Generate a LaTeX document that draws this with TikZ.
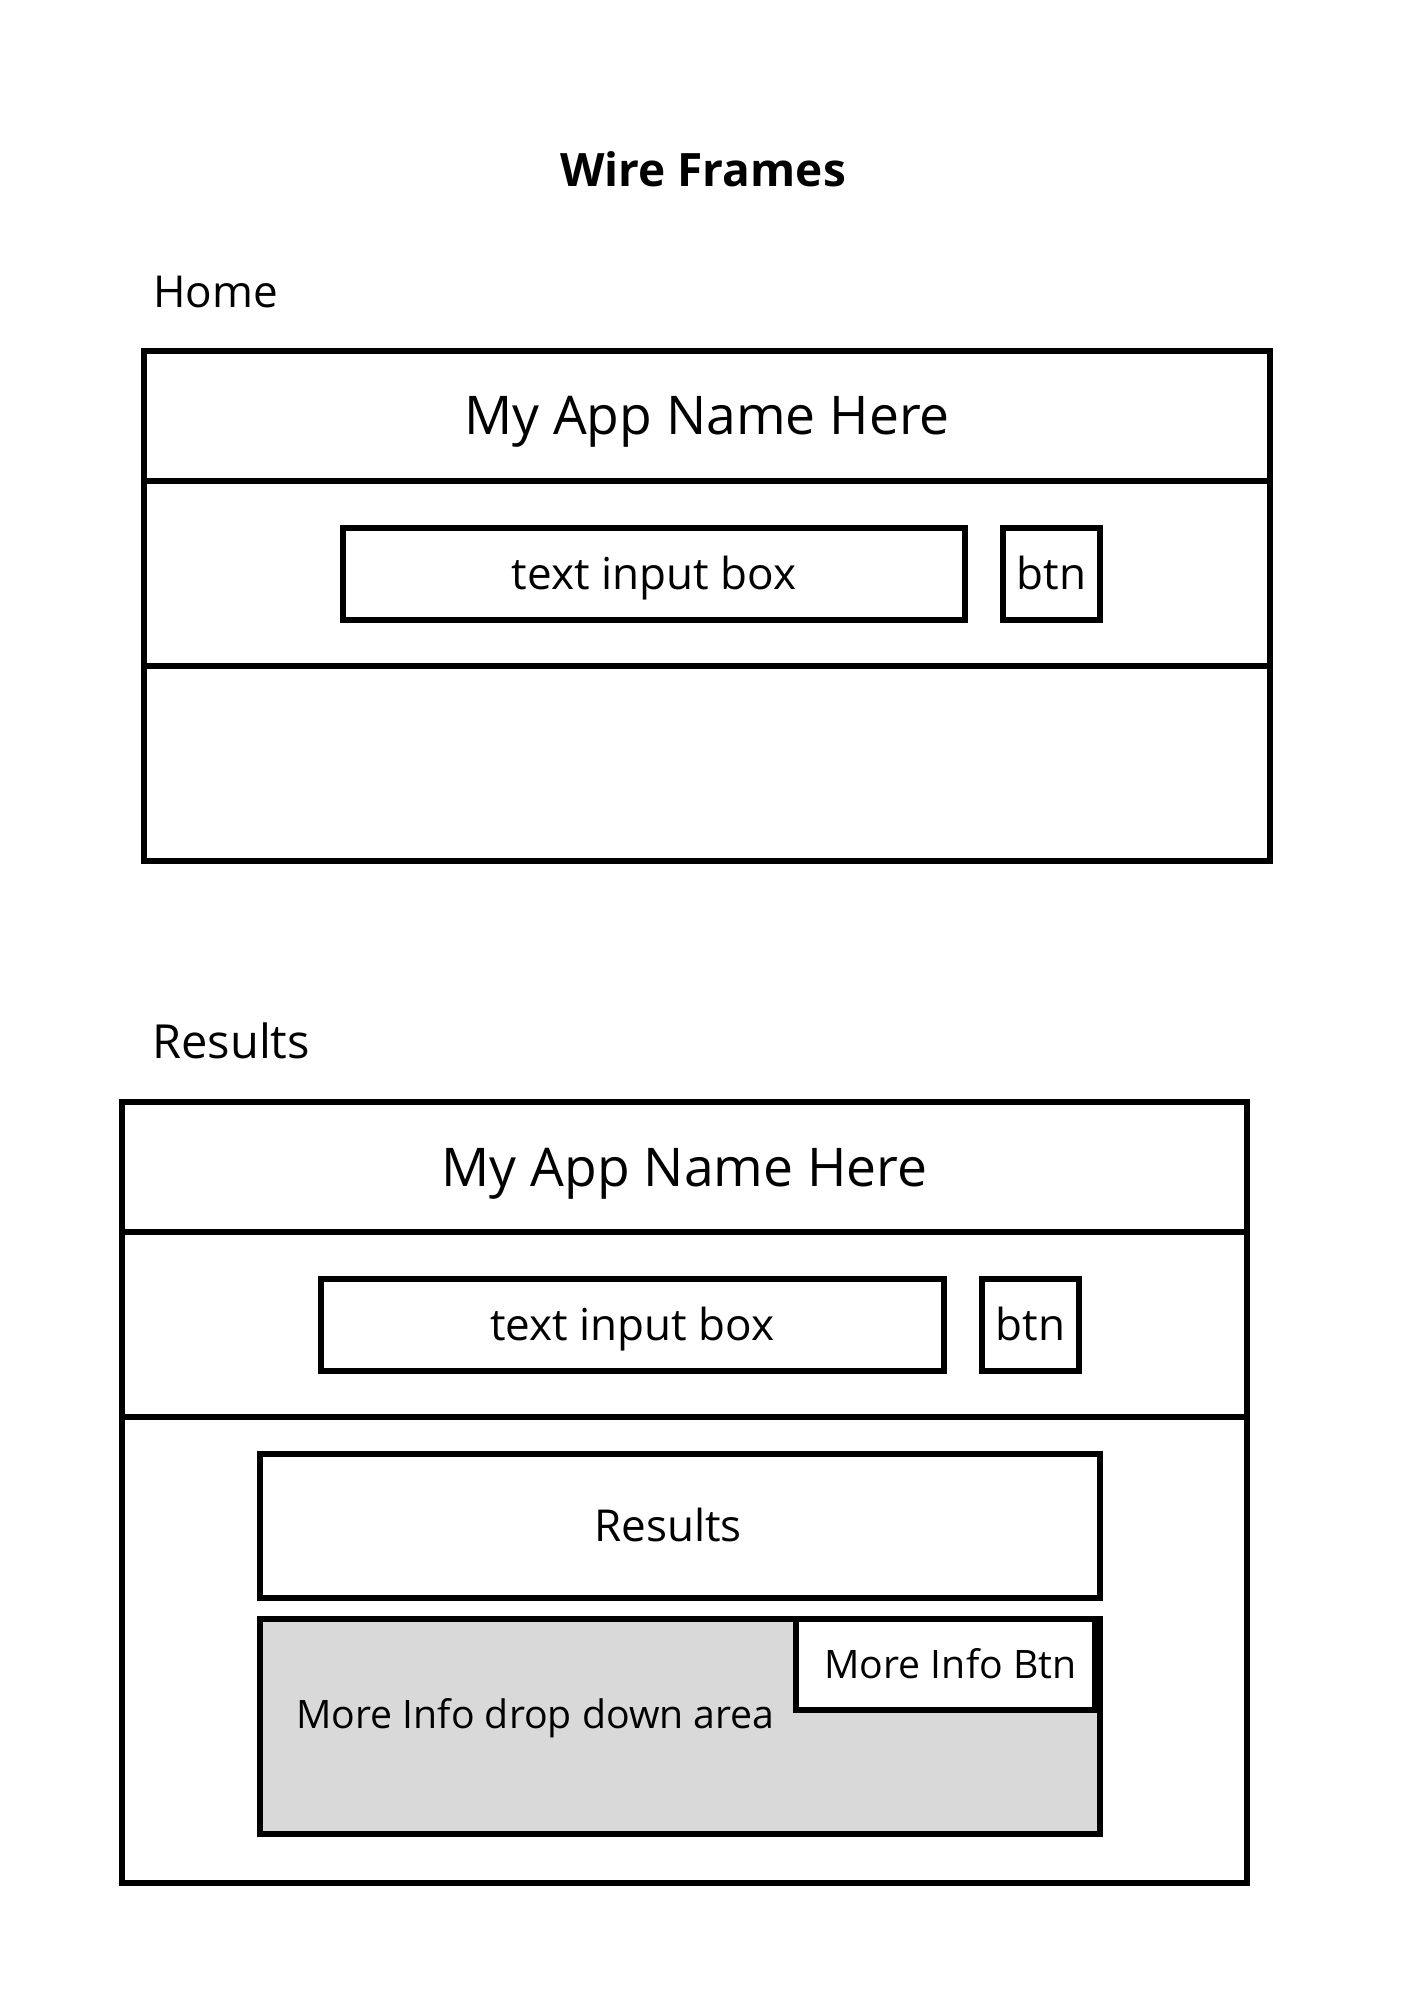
\documentclass[tikz,border=0pt]{standalone}
\usepackage{fontspec}
\setmainfont{Open Sans}
\begin{document}
\begin{tikzpicture}[x=0.5pt,y=-0.5pt,
  sz/.style 2 args={minimum width=#1*0.5pt, minimum height=#2*0.5pt},
  pane/.style={draw=black, line width=3.4pt, rectangle, inner sep=0pt, fill=white, text depth=0pt},
  big/.style={font=\fontsize{26.7}{30}\selectfont, text height=19pt},
  mid/.style={font=\fontsize{22}{26}\selectfont, text height=15.7pt},
  small/.style={font=\fontsize{19.6}{23}\selectfont, text height=14pt},
  label/.style={font=\fontsize{22}{26}\selectfont, anchor=base west, inner sep=0pt}]
  \useasboundingbox[fill=white] (0,0) rectangle (1414,2000);

  % heading
  \node[font=\fontsize{23}{27}\bfseries\selectfont, anchor=base, inner sep=0pt] (title) at (703,187) {Wire Frames};

  % ---- Home screen ----
  \node[label] (homelbl) at (153,308) {Home};
  \node[pane, sz={1126}{130}, big] (hTitle) at (707,416) {My App Name Here};
  \node[pane, sz={1126}{185}] (hBar) at (707,573.5) {};
  \node[pane, sz={1126}{195}] (hBody) at (707,763.5) {};
  \node[pane, sz={622}{92}, mid] (hInput) at (654,574) {text input box};
  \node[pane, sz={97}{92}, mid] (hBtn) at (1051.5,574) {btn};

  % ---- Results screen ----
  \node[label, font=\fontsize{23.5}{27}\selectfont] (reslbl) at (152,1058) {Results};
  \node[pane, sz={1125}{130}, big] (rTitle) at (684.5,1167) {My App Name Here};
  \node[pane, sz={1125}{185}] (rBar) at (684.5,1324.5) {};
  \node[pane, sz={1125}{466}] (rBody) at (684.5,1650) {};
  \node[pane, sz={623}{92}, mid] (rInput) at (632.5,1325) {text input box};
  \node[pane, sz={97}{92}, mid] (rBtn) at (1030.5,1325) {btn};
  \node[pane, sz={840}{144}, mid] (rList) at (680,1526) {\kern-12pt Results};
  \node[pane, sz={840}{215}, fill={rgb,255:red,217;green,217;blue,217}] (rDrop) at (680,1726.5) {};
  \node[pane, sz={299}{91}, small] (rMore) at (945.5,1664.5) {\kern5pt More Info Btn};
  \node[small, anchor=west, inner sep=0pt, text depth=0pt] (dropTxt) at (296,1714) {More Info drop down area};
\end{tikzpicture}
\end{document}
